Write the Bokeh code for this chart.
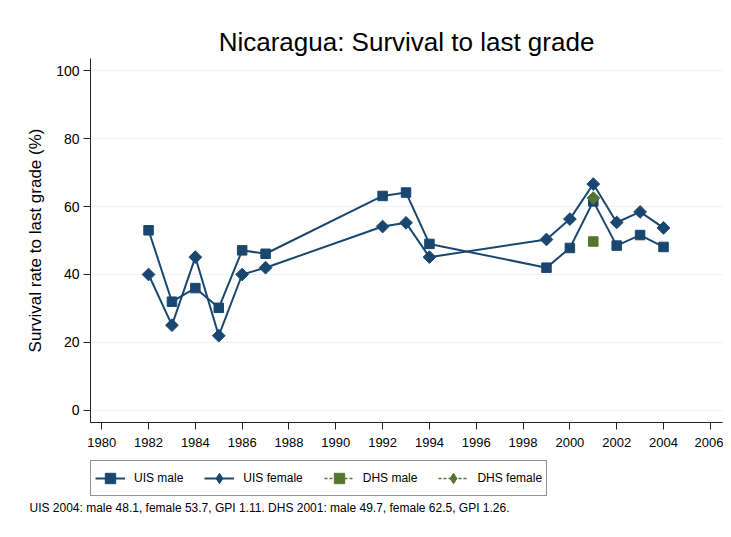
import numpy as np
from bokeh.plotting import figure
from bokeh.layouts import column
from bokeh.models import Range1d, FixedTicker, Legend, Title
from bokeh.embed import file_html
from bokeh.resources import INLINE

# ---- data ----
uis_years = [1982, 1983, 1984, 1985, 1986, 1987, 1992, 1993, 1994, 1999, 2000, 2001, 2002, 2003, 2004]
uis_male = [53.0, 32.0, 36.0, 30.2, 47.1, 46.1, 63.1, 64.1, 49.0, 42.0, 47.8, 61.5, 48.5, 51.6, 48.1]
uis_female = [40.0, 25.1, 45.1, 22.0, 40.0, 42.0, 54.1, 55.2, 45.1, 50.3, 56.3, 66.6, 55.3, 58.4, 53.7]
dhs_years = [2001]
dhs_male = [49.7]
dhs_female = [62.5]
x_ticks = list(range(1980, 2007, 2))
y_ticks = [0, 20, 40, 60, 80, 100]
title_text = "Nicaragua: Survival to last grade"
y_label = "Survival rate to last grade (%)"
series_names = ["UIS male", "UIS female", "DHS male", "DHS female"]
note_text = "UIS 2004: male 48.1, female 53.7, GPI 1.11. DHS 2001: male 49.7, female 62.5, GPI 1.26."

NAVY = "#1a476f"
GREEN = "#55752f"
FONT = "Liberation Sans"

# ---------------- main plot ----------------
p = figure(frame_width=632, frame_height=364, output_backend="svg", toolbar_location=None,
           x_range=Range1d(1979.52, 2006.52), y_range=Range1d(-3.53, 103.53),
           min_border_left=90, min_border_right=1, min_border_top=58, min_border_bottom=30)
p.outline_line_color = None
p.background_fill_color = "white"
p.border_fill_color = "white"

p.title.text = title_text
p.title.align = "center"
p.title.text_font = FONT
p.title.text_font_size = "26px"
p.title.text_font_style = "normal"
p.title.text_color = "black"
p.title.standoff = 3

for ax in (p.xaxis[0], p.yaxis[0]):
    ax.major_label_text_font = FONT
    ax.major_label_text_color = "black"
    ax.axis_line_color = "#222222"
    ax.major_tick_line_color = "#222222"
    ax.major_tick_out = 7
    ax.major_tick_in = 0
    ax.minor_tick_line_color = None
    ax.major_label_standoff = 4

p.xaxis.major_label_text_font_size = "13px"
p.yaxis.major_label_text_font_size = "14px"
p.xaxis.ticker = FixedTicker(ticks=x_ticks)
p.yaxis.ticker = FixedTicker(ticks=y_ticks)
p.yaxis.axis_label = y_label
p.yaxis.axis_label_text_font = FONT
p.yaxis.axis_label_text_font_size = "17px"
p.yaxis.axis_label_text_font_style = "normal"
p.yaxis.axis_label_text_color = "black"
p.yaxis.axis_label_standoff = 8
p.xaxis.major_label_standoff = 8

p.xgrid.grid_line_color = None
p.ygrid.grid_line_color = "#eaf2f3"
p.ygrid.grid_line_width = 1.2

DSIZE = 9.0
p.line(uis_years, uis_male, line_color=NAVY, line_width=2)
p.scatter(uis_years, uis_male, marker="square", size=9.5, fill_color=NAVY, line_color=NAVY)
p.line(uis_years, uis_female, line_color=NAVY, line_width=2)
p.scatter(uis_years, uis_female, marker="square", angle=np.pi / 4, size=DSIZE,
          fill_color=NAVY, line_color=NAVY)
p.line(dhs_years, dhs_male, line_color=GREEN, line_width=1.5, line_dash="3 2")
p.scatter(dhs_years, dhs_male, marker="square", size=9.5, fill_color=GREEN, line_color=GREEN)
p.line(dhs_years, dhs_female, line_color=GREEN, line_width=1.5, line_dash="3 2")
p.scatter(dhs_years, dhs_female, marker="square", angle=np.pi / 4, size=DSIZE,
          fill_color=GREEN, line_color=GREEN)

# ---------------- legend + note strip ----------------
q = figure(frame_width=632, frame_height=36, output_backend="svg", toolbar_location=None,
           x_range=Range1d(0, 1), y_range=Range1d(0, 1),
           x_axis_location=None, y_axis_location=None,
           min_border_left=88, min_border_right=3, min_border_top=8, min_border_bottom=22)
q.outline_line_color = None
q.grid.visible = False
q.background_fill_color = "white"
q.border_fill_color = "white"

styles = [(NAVY, "solid", 2, "square"), (NAVY, "solid", 2, "diamond"),
          (GREEN, "dashed", 1.5, "square"), (GREEN, "dashed", 1.5, "diamond")]
items = []
for name, (col, dash, lw, mk) in zip(series_names, styles):
    lr = q.line([np.nan, np.nan], [np.nan, np.nan], line_color=col, line_width=lw,
                line_dash=("3 2" if dash == "dashed" else "solid"))
    sr = q.scatter([np.nan], [np.nan], marker=mk, size=10, fill_color=col, line_color=col)
    items.append((name, [lr, sr]))

legend = Legend(items=items, orientation="horizontal", location="top_left", margin=0,
                glyph_width=30, glyph_height=26, label_standoff=9, spacing=21,
                padding=4, border_line_color="#222222", border_line_width=1,
                label_text_font=FONT, label_text_font_size="12px", label_text_color="black",
                background_fill_color="white", background_fill_alpha=1)
q.add_layout(legend, "center")

note = Title(text=note_text, align="left", offset=-61, text_font=FONT,
             text_font_size="12px", text_font_style="normal", text_color="black", standoff=4)
q.add_layout(note, "below")

open("out.html", "w").write(file_html(column(p, q, spacing=0), INLINE))
